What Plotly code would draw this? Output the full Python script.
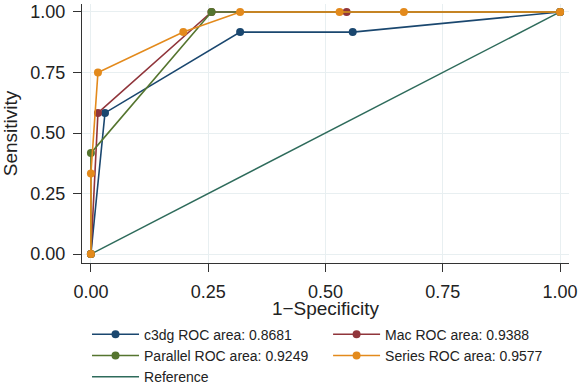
import plotly.graph_objects as go

c3dg_x = [0, 0.03, 0.318, 0.558, 1]
c3dg_y = [0, 0.583, 0.917, 0.917, 1]
mac_x = [0, 0.015, 0.257, 0.545, 1]
mac_y = [0, 0.583, 1, 1, 1]
par_x = [0, 0, 0.257, 1]
par_y = [0, 0.417, 1, 1]
ser_x = [0, 0, 0.015, 0.197, 0.318, 0.53, 0.667, 1]
ser_y = [0, 0.333, 0.75, 0.917, 1, 1, 1, 1]
ref_x = [0, 1]
ref_y = [0, 1]
names = ["c3dg ROC area: 0.8681", "Mac ROC area: 0.9388",
         "Parallel ROC area: 0.9249", "Series ROC area: 0.9577", "Reference"]
tick_vals = [0, 0.25, 0.5, 0.75, 1]
tick_text = ["0.00", "0.25", "0.50", "0.75", "1.00"]

colors = ["#1a476f", "#90353b", "#55752f", "#e38a1c", "#2e6b5b"]
FONT = "Liberation Sans, Arial, Helvetica"

fig = go.Figure()
fig.add_trace(go.Scatter(x=ref_x, y=ref_y, mode="lines", name=names[4],
                         line=dict(color=colors[4], width=1.4), legendrank=5))
series = [(c3dg_x, c3dg_y), (mac_x, mac_y), (par_x, par_y), (ser_x, ser_y)]
for k, ((xs, ys), nm, col) in enumerate(zip(series, names[:4], colors[:4])):
    fig.add_trace(go.Scatter(x=xs, y=ys, mode="lines+markers", name=nm,
                             line=dict(color=col, width=1.6),
                             marker=dict(color=col, size=8), legendrank=k + 1))

axis_common = dict(showline=True, linecolor="#333333", linewidth=1,
                   ticks="outside", ticklen=8, tickcolor="#333333",
                   gridcolor="#e8eff1", gridwidth=1, zeroline=False,
                   tickvals=tick_vals, ticktext=tick_text,
                   tickfont=dict(size=18, color="#222222", family=FONT),
                   ticklabelstandoff=4, automargin=False)
fig.update_xaxes(range=[-0.019, 1.019], title=dict(text="1−Specificity", standoff=10,
                 font=dict(size=19, color="#222222", family=FONT)),
                 **axis_common)
fig.update_yaxes(range=[-0.037, 1.033], title=dict(text="Sensitivity", standoff=8,
                 font=dict(size=19, color="#222222", family=FONT)),
                 **axis_common)

fig.update_layout(
    width=580, height=384,
    margin=dict(l=82, r=11, t=4, b=121),
    plot_bgcolor="white", paper_bgcolor="white",
    legend=dict(orientation="h", xref="paper", yref="container",
                x=0.0103, xanchor="left", y=0.170, yanchor="top",
                entrywidth=0.495, entrywidthmode="fraction", traceorder="normal",
                font=dict(size=14, color="#222222", family=FONT),
                itemwidth=47, bgcolor="rgba(0,0,0,0)"),
    showlegend=True,
)

fig.write_html("out.html", config={"displayModeBar": False},
               post_script="document.body.style.margin='0';")
